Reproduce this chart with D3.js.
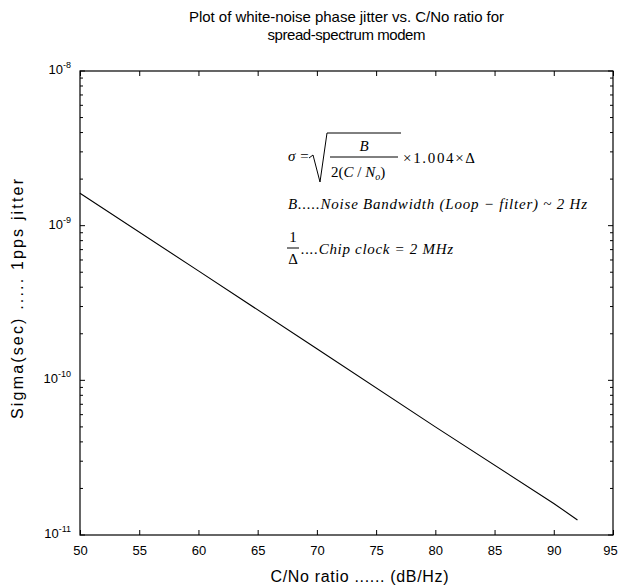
<!DOCTYPE html>
<html>
<head>
<meta charset="utf-8">
<title>white-noise phase jitter</title>
<script src="https://d3js.org/d3.v7.min.js"></script>
<style>
  body { margin: 0; padding: 0; background: #fff; }
  svg { display: block; }
  text { font-family: "Liberation Sans", Arial, sans-serif; fill: #000; }
  .tick-label { font-size: 13px; }
  .math { font-family: "Liberation Serif", "Times New Roman", serif; font-style: italic; font-size: 15px; }
</style>
</head>
<body>
<svg width="619" height="588"></svg>
<script>
// values
var cn0 = [50, 60, 70, 80, 90, 92];                                  // dB/Hz
var sigma = [1.62e-9, 5.1e-10, 1.6e-10, 5.0e-11, 1.6e-11, 1.25e-11]; // sec
var xTicks = [50, 55, 60, 65, 70, 75, 80, 85, 90, 95];
var yDecades = [1e-11, 1e-10, 1e-9, 1e-8];
var yDecadeLabels = ['-11', '-10', '-9', '-8'];

var svg = d3.select('svg');
var margin = { left: 80, right: 6, top: 71, bottom: 53 };
var width = +svg.attr('width');
var height = +svg.attr('height');

var x = d3.scaleLinear().domain([50, 95]).range([margin.left, width - margin.right]);
var y = d3.scaleLog().domain([1e-11, 1e-8]).range([height - margin.bottom, margin.top]);

// bottom axis, ticks pointing inwards
svg.append('g')
    .attr('transform', 'translate(0,' + y.range()[0] + ')')
    .call(d3.axisBottom(x).tickValues(xTicks).tickSize(-5).tickPadding(11).tickFormat(d3.format('d')))
    .call(function(g) {
        g.select('.domain').remove();
        g.selectAll('text').attr('class', 'tick-label').attr('font-family', null).attr('font-size', null);
        g.selectAll('text').filter(function(d) { return d === 95; }).attr('dx', -3);
    });

// top axis, no labels
svg.append('g')
    .attr('transform', 'translate(0,' + y.range()[1] + ')')
    .call(d3.axisTop(x).tickValues(xTicks).tickSize(-5).tickFormat(''))
    .call(function(g) { g.select('.domain').remove(); });

// log ticks left and right
var yAll = y.ticks();
var isMajor = function(d) { return yDecades.some(function(v) { return Math.abs(v - d) / v < 1e-6; }); };
[x.range()[0], x.range()[1]].forEach(function(px, i) {
    var dir = i === 0 ? 1 : -1;
    svg.append('g').selectAll('line')
        .data(yAll)
        .enter().append('line')
        .attr('x1', px)
        .attr('x2', function(d) { return px + dir * (isMajor(d) ? 5 : 3); })
        .attr('y1', function(d) { return y(d); })
        .attr('y2', function(d) { return y(d); })
        .attr('stroke', '#000');
});

// y labels 10^n
var yl = svg.append('g').selectAll('text')
    .data(yDecades)
    .enter().append('text')
    .attr('class', 'tick-label')
    .attr('x', x.range()[0] - 9)
    .attr('y', function(d) { return y(d) + 3; })
    .attr('text-anchor', 'end');
yl.append('tspan').text('10');
yl.append('tspan')
    .attr('dy', -6)
    .attr('font-size', 9)
    .text(function(d, i) { return yDecadeLabels[i]; });

// box
svg.append('rect')
    .attr('x', x.range()[0])
    .attr('y', y.range()[1])
    .attr('width', x.range()[1] - x.range()[0])
    .attr('height', y.range()[0] - y.range()[1])
    .attr('fill', 'none')
    .attr('stroke', '#000')
    .attr('stroke-width', 1.2);

// the line
var line = d3.line()
    .x(function(d, i) { return x(cn0[i]); })
    .y(function(d) { return y(d); });
svg.append('path')
    .datum(sigma)
    .attr('d', line)
    .attr('fill', 'none')
    .attr('stroke', '#000')
    .attr('stroke-width', 1.1);

// titles
var cx = (x.range()[0] + x.range()[1]) / 2;
svg.append('text').attr('x', cx).attr('y', 22).attr('text-anchor', 'middle').attr('font-size', 15)
    .attr('textLength', 315)
    .text('Plot of white-noise phase jitter vs. C/No ratio for');
svg.append('text').attr('x', cx).attr('y', 40).attr('text-anchor', 'middle').attr('font-size', 15)
    .attr('textLength', 158)
    .text('spread-spectrum modem');
svg.append('text').attr('x', cx + 13).attr('y', 582).attr('text-anchor', 'middle').attr('font-size', 16)
    .attr('textLength', 178)
    .text('C/No ratio ...... (dB/Hz)');
svg.append('text')
    .attr('transform', 'translate(23,299) rotate(-90)')
    .attr('text-anchor', 'middle').attr('font-size', 16)
    .attr('textLength', 240)
    .text('Sigma(sec) ..... 1pps jitter');

// formula annotation
var f = svg.append('g');
f.append('text').attr('class', 'math').attr('x', 288).attr('y', 161).text('σ =');
f.append('path')
    .attr('d', 'M309,158 L313,155 L320,182 L327,133 L401,133')
    .attr('fill', 'none').attr('stroke', '#000').attr('stroke-width', 1);
f.append('text').attr('class', 'math').attr('x', 364).attr('y', 151).attr('text-anchor', 'middle').text('B');
f.append('line').attr('x1', 330).attr('x2', 398).attr('y1', 157).attr('y2', 157).attr('stroke', '#000');
var den = f.append('text').attr('class', 'math').attr('x', 331).attr('y', 177).style('font-style', 'normal');
den.append('tspan').text('2(');
den.append('tspan').style('font-style', 'italic').text('C');
den.append('tspan').text(' / ');
den.append('tspan').style('font-style', 'italic').text('N');
den.append('tspan').attr('dy', 3).attr('font-size', 10).style('font-style', 'italic').text('o');
den.append('tspan').attr('dy', -3).text(')');
f.append('text').attr('class', 'math').attr('x', 403).attr('y', 163).style('font-style', 'normal')
    .attr('textLength', 72)
    .text('×1.004×Δ');

f.append('text').attr('class', 'math').attr('x', 288).attr('y', 209)
    .attr('textLength', 299)
    .text('B.....Noise Bandwidth (Loop − filter) ~ 2 Hz');
f.append('text').attr('class', 'math').attr('x', 293).attr('y', 242).attr('text-anchor', 'middle').style('font-style', 'normal').text('1');
f.append('line').attr('x1', 287).attr('x2', 299).attr('y1', 248).attr('y2', 248).attr('stroke', '#000');
f.append('text').attr('class', 'math').attr('x', 293).attr('y', 264).attr('text-anchor', 'middle').style('font-style', 'normal').text('Δ');
f.append('text').attr('class', 'math').attr('x', 301).attr('y', 254)
    .attr('textLength', 152)
    .text('....Chip clock = 2 MHz');
</script>
</body>
</html>
